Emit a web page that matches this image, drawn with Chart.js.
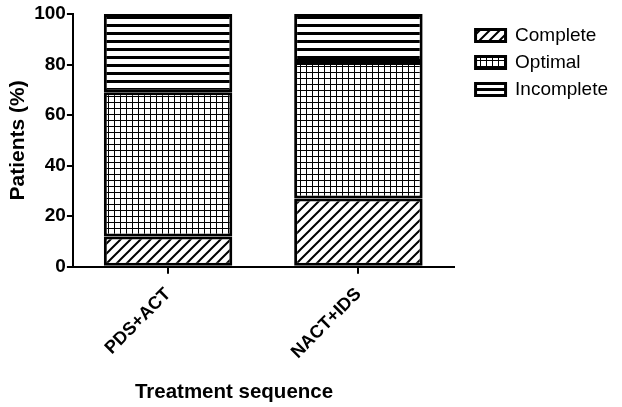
<!DOCTYPE html>
<html>
<head>
<meta charset="utf-8">
<script src="https://cdn.jsdelivr.net/npm/chart.js@4"></script>
<style>
  html, body { margin: 0; padding: 0; background: #fff; }
  #wrap { width: 622px; height: 407px; }
</style>
</head>
<body>
<div id="wrap"><canvas id="resectionChart"></canvas></div>
<script>
// Data
const categories = ['PDS+ACT', 'NACT+IDS'];
const complete = [12, 27];
const optimal = [57, 54];
const incomplete = [31, 19];
const yTicks = [0, 20, 40, 60, 80, 100];

// Black-and-white fill patterns
function makePattern(w, h, draw) {
    const c = document.createElement('canvas');
    c.width = w;
    c.height = h;
    const p = c.getContext('2d');
    p.fillStyle = '#fff';
    p.fillRect(0, 0, w, h);
    p.strokeStyle = '#000';
    p.fillStyle = '#000';
    draw(p);
    return p.createPattern(c, 'repeat');
}

const hatch = makePattern(10, 10, p => {
    p.lineWidth = 2;
    p.beginPath();
    p.moveTo(0, 10); p.lineTo(10, 0);
    p.moveTo(-5, 5); p.lineTo(5, -5);
    p.moveTo(5, 15); p.lineTo(15, 5);
    p.stroke();
});

const grid = makePattern(6, 6, p => {
    p.fillRect(0, 0, 6, 1);
    p.fillRect(0, 0, 1, 6);
});

const stripes = makePattern(8, 8, p => {
    p.fillRect(0, 0, 8, 3);
});

const font = 'Liberation Sans, Arial, sans-serif';

// x axis title sits left of centre in the original
const xTitle = {
    id: 'xTitle',
    afterDraw(chart) {
        const c = chart.ctx;
        c.save();
        c.font = 'bold 20.5px ' + font;
        c.fillStyle = '#000';
        c.textAlign = 'center';
        c.textBaseline = 'middle';
        c.fillText('Treatment sequence', 234, 392);
        c.restore();
    }
};

// leave a wider gap between plot and legend
const legendGap = 14;
const legendShift = {
    id: 'legendShift',
    afterInit(chart) {
        const lg = chart.legend;
        const fit = lg.fit;
        lg.fit = function () {
            fit.call(this);
            this.width += legendGap;
        };
    },
    afterLayout(chart) {
        chart.legend.left += legendGap;
    }
};

const ctx = document.getElementById('resectionChart').getContext('2d');
new Chart(ctx, {
    type: 'bar',
    data: {
        labels: categories,
        datasets: [
            { label: 'Complete', data: complete, backgroundColor: hatch },
            { label: 'Optimal', data: optimal, backgroundColor: grid },
            { label: 'Incomplete', data: incomplete, backgroundColor: stripes }
        ].map(d => Object.assign(d, {
            borderColor: '#000',
            borderWidth: 3,
            borderSkipped: false,
            barPercentage: 0.675,
            categoryPercentage: 1
        }))
    },
    options: {
        responsive: true,
        maintainAspectRatio: false,
        animation: false,
        layout: { padding: { top: 14, left: 6, right: 4, bottom: 34 } },
        plugins: {
            tooltip: { enabled: false },
            legend: {
                position: 'right',
                align: 'start',
                title: { display: true, text: ' ', padding: 0, font: { size: 4, lineHeight: 1 } },
                labels: {
                    boxWidth: 30,
                    boxHeight: 12,
                    padding: 8,
                    color: '#000',
                    font: { family: font, size: 19 }
                }
            }
        },
        scales: {
            x: {
                stacked: true,
                border: { color: '#000', width: 2 },
                grid: {
                    offset: false,
                    drawOnChartArea: false,
                    color: '#000',
                    lineWidth: 2,
                    tickLength: 7
                },
                ticks: {
                    color: '#000',
                    padding: 10,
                    maxRotation: 45,
                    minRotation: 45,
                    font: { family: font, size: 18, weight: 'bold' }
                }
            },
            y: {
                stacked: true,
                min: 0,
                max: 100,
                afterBuildTicks: axis => { axis.ticks = yTicks.map(v => ({ value: v })); },
                border: { color: '#000', width: 2 },
                grid: {
                    drawOnChartArea: false,
                    color: '#000',
                    lineWidth: 2,
                    tickLength: 6
                },
                ticks: {
                    color: '#000',
                    padding: 1,
                    font: { family: font, size: 19, weight: 'bold' }
                },
                title: {
                    display: true,
                    text: 'Patients (%)',
                    color: '#000',
                    padding: { top: 0, bottom: 2 },
                    font: { family: font, size: 21, weight: 'bold' }
                }
            }
        }
    },
    plugins: [xTitle, legendShift]
});
</script>
</body>
</html>
